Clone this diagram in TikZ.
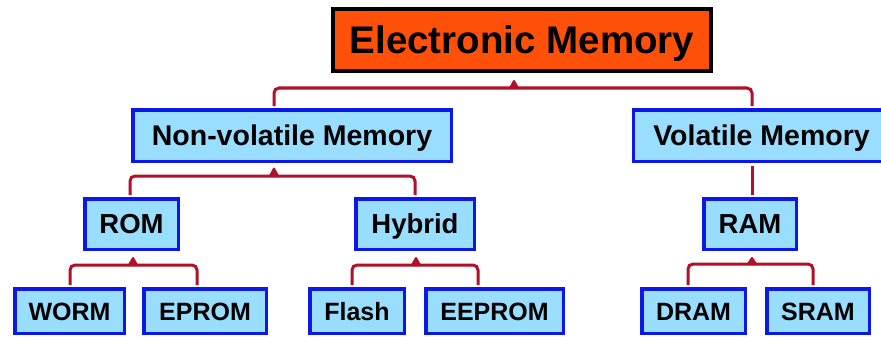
\documentclass[tikz,border=0pt]{standalone}
\usepackage{fontspec}
\setmainfont{Liberation Sans}
\definecolor{rootfill}{RGB}{255,80,10}
\definecolor{boxfill}{RGB}{153,221,255}
\definecolor{boxline}{RGB}{12,24,232}
\definecolor{linkred}{RGB}{176,16,40}
\begin{document}
\begin{tikzpicture}[x=1pt,y=-1pt,
  root/.style={draw=black,line width=4pt,fill=rootfill,inner sep=0pt,
    minimum width=378pt,minimum height=62pt,
    font=\fontsize{38.5}{42}\selectfont\bfseries,text height=27.5pt,text depth=0pt},
  item/.style={draw=boxline,line width=3.5pt,fill=boxfill,inner sep=0pt,
    text height=#1,text depth=0pt},
  lvltwo/.style={item=20pt,font=\fontsize{28.5}{31}\selectfont\bfseries,minimum height=51.5pt},
  lvlthree/.style={item=19.5pt,font=\fontsize{27.5}{30}\selectfont\bfseries,minimum height=50.5pt},
  leaf/.style={item=18pt,font=\fontsize{25}{28}\selectfont\bfseries,minimum height=44.5pt},
  link/.style={draw=linkred,line width=3pt,rounded corners=5pt},
  tip/.style={draw=linkred,fill=linkred,line width=2pt,line join=round}]
\useasboundingbox (0,0) rectangle (881,337);

% boxes
\node[root] (em) at (522,40) {Electronic Memory};
\node[lvltwo,minimum width=318.5pt] (nv) at (292,135.5) {Non-volatile Memory};
\node[lvltwo,minimum width=256.5pt] (vm) at (761.5,135.5) {Volatile Memory};
\node[lvlthree,minimum width=93.5pt] (rom) at (131.5,224) {ROM};
\node[lvlthree,minimum width=118.5pt] (hyb) at (415,224) {Hybrid};
\node[lvlthree,minimum width=92.5pt] (ram) at (750,224) {RAM};
\node[leaf,minimum width=109.5pt] (worm) at (69.5,311) {WORM};
\node[leaf,minimum width=122.5pt] (eprom) at (205,311) {EPROM};
\node[leaf,minimum width=94.5pt] (flash) at (357,311) {Flash};
\node[leaf,minimum width=137.5pt] (eeprom) at (494.5,311) {EEPROM};
\node[leaf,minimum width=103.5pt] (dram) at (693.5,311) {DRAM};
\node[leaf,minimum width=102.5pt] (sram) at (818,311) {SRAM};

% brace-shaped connectors: two rounded arms and a small solid tip under the parent
\draw[link] ([xshift=-18pt,yshift=2pt]nv.north)
  |- ([xshift=-8pt,yshift=-15pt]em.south) -| ([xshift=-9.5pt,yshift=2pt]vm.north);
\draw[tip] ([xshift=-12pt,yshift=-15pt]em.south) -- ([xshift=-8pt,yshift=-8pt]em.south)
  -- ([xshift=-4pt,yshift=-15pt]em.south) -- cycle;

\draw[link] ([xshift=-1.5pt,yshift=2pt]rom.north)
  |- ([xshift=-18pt,yshift=-13pt]nv.south) -| ([yshift=2pt]hyb.north);
\draw[tip] ([xshift=-22pt,yshift=-13pt]nv.south) -- ([xshift=-18pt,yshift=-5.5pt]nv.south)
  -- ([xshift=-14pt,yshift=-13pt]nv.south) -- cycle;

\draw[link] ([xshift=0.5pt,yshift=2pt]worm.north)
  |- ([xshift=1.5pt,yshift=-14pt]rom.south) -| ([xshift=-8pt,yshift=2pt]eprom.north);
\draw[tip] ([xshift=-2.5pt,yshift=-14pt]rom.south) -- ([xshift=1.5pt,yshift=-7pt]rom.south)
  -- ([xshift=5.5pt,yshift=-14pt]rom.south) -- cycle;

\draw[link] ([xshift=-5pt,yshift=2pt]flash.north)
  |- ([xshift=1pt,yshift=-14pt]hyb.south) -| ([xshift=-16.5pt,yshift=2pt]eeprom.north);
\draw[tip] ([xshift=-3pt,yshift=-14pt]hyb.south) -- ([xshift=1pt,yshift=-7pt]hyb.south)
  -- ([xshift=5pt,yshift=-14pt]hyb.south) -- cycle;

\draw[link] ([xshift=-5.5pt,yshift=2pt]dram.north)
  |- ([xshift=2pt,yshift=-13pt]ram.south) -| ([xshift=-5pt,yshift=2pt]sram.north);
\draw[tip] ([xshift=-2pt,yshift=-13pt]ram.south) -- ([xshift=2pt,yshift=-7pt]ram.south)
  -- ([xshift=6pt,yshift=-13pt]ram.south) -- cycle;

\draw[link] ([xshift=-9.5pt,yshift=-3pt]vm.south) -- ([xshift=2pt,yshift=2pt]ram.north);
\end{tikzpicture}
\end{document}
